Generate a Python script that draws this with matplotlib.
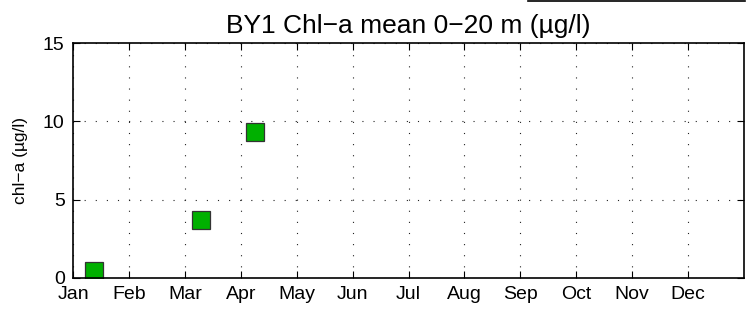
import matplotlib
matplotlib.use('Agg')
import matplotlib.pyplot as plt
from matplotlib.lines import Line2D

# month labels, x is in months since 1 Jan
months = ['Jan', 'Feb', 'Mar', 'Apr', 'May', 'Jun',
          'Jul', 'Aug', 'Sep', 'Oct', 'Nov', 'Dec']
obs_month = [0.38, 2.29, 3.25]
chla = [0.45, 3.7, 9.3]

plt.rcParams['font.family'] = ['Liberation Sans', 'DejaVu Sans']

fig = plt.figure(figsize=(7.47, 3.14), dpi=100)
ax = fig.add_axes([73/747, 36/314, 671/747, 235/314])

ax.plot(obs_month, chla, 's', color='#00b000', mec='#333333', mew=0.9, ms=12.5)

ax.set_xlim(0, 12)
ax.set_ylim(0, 15)
ax.set_xticks(range(12))
ax.set_xticklabels(months)
ax.set_yticks([0, 5, 10, 15])
ax.tick_params(direction='in', length=5, width=0.8, top=True, right=True,
               labelsize=14, color='black')
ax.tick_params(axis='x', pad=6)
ax.tick_params(axis='y', pad=6)
ax.grid(True, color='#222222', linestyle=(0, (1, 9)), linewidth=0.8)
for s in ax.spines.values():
    s.set_linewidth(1.2)

ax.set_ylabel('chl\u2212a (\u00b5g/l)', fontsize=12.5, labelpad=11)
ax.set_title('BY1 Chl\u2212a mean 0\u221220 m (\u00b5g/l)', fontsize=19, pad=7)

# stray line at top right edge
fig.add_artist(Line2D([528/747, 745/747], [0.997, 0.997], color='black', lw=1.2,
                      transform=fig.transFigure))

fig.savefig('out.png', dpi=100)
